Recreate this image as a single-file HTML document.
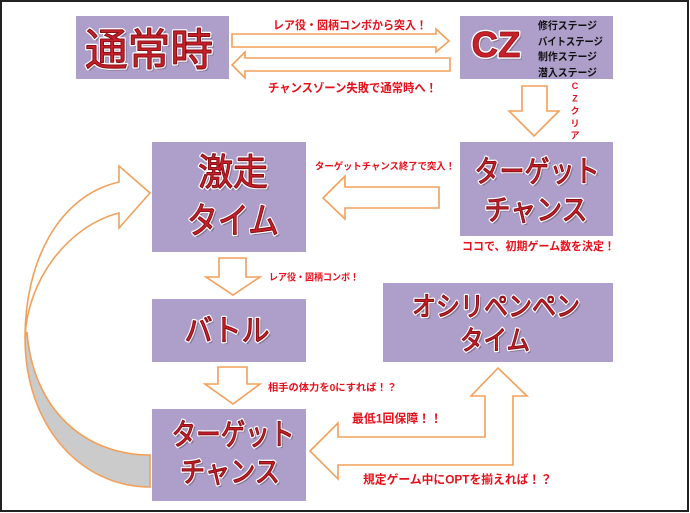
<!DOCTYPE html>
<html><head><meta charset="utf-8">
<style>
html,body{margin:0;padding:0;background:#fff;}
svg{display:block;}
.b{font-family:"Liberation Sans","Noto Sans CJK JP",sans-serif;font-weight:bold;}
.m{font-family:"Liberation Sans","Noto Sans CJK JP",sans-serif;font-weight:normal;}
.sh{fill:#6a5a6e;opacity:.55;stroke:#6a5a6e;stroke-width:1;}
.wt{fill:#fff;stroke:#fff;stroke-width:3.5;stroke-linejoin:round;}
.rd{fill:#c8202a;stroke:#8a1016;stroke-width:1.1;stroke-linejoin:round;}
.lb{fill:#e5101a;}
.bk{fill:#111;}
.ar{fill:#fff;stroke:#f2a05a;stroke-width:1.6;stroke-linejoin:miter;}
.bx{fill:#ad9fca;}
</style></head>
<body>
<svg width="690" height="513" viewBox="0 0 690 513" xmlns="http://www.w3.org/2000/svg">
<rect x="0" y="0" width="690" height="513" fill="#fff"/>
<rect x="1" y="1" width="687" height="510" fill="none" stroke="#222" stroke-width="2"/>

<!-- boxes -->
<rect class="bx" x="76" y="16" width="153" height="63"/>
<rect class="bx" x="460" y="16" width="153" height="63"/>
<rect class="bx" x="460" y="142" width="153" height="94"/>
<rect class="bx" x="152" y="142" width="154" height="110"/>
<rect class="bx" x="152" y="299" width="154" height="63"/>
<rect class="bx" x="152" y="409" width="154" height="92"/>
<rect class="bx" x="383" y="283" width="230" height="79"/>

<!-- arrows -->
<polygon class="ar" points="232,34 436,34 436,29 449,41 436,52 436,47 232,47"/>
<polygon class="ar" points="450,58 245,58 245,52 232,65 245,78 245,71 450,71"/>
<polygon class="ar" points="522,86 547,86 547,111 559,111 534,136 509,111 522,111"/>
<polygon class="ar" points="439,187 345,187 345,176 323,198 345,219 345,208 439,208"/>
<polygon class="ar" points="219,258 246,258 246,277 260,277 233,295 206,277 219,277"/>
<polygon class="ar" points="218,367 247,367 247,384 260,384 233,404 205,384 218,384"/>
<polygon class="ar" points="310,451 338,423 338,437 485,437 485,396 471,396 498,368 527,396 513,396 513,465 338,465 338,479"/>

<!-- curved arrow -->
<path d="M25,338 C25,425 80,487 150,487 L150,455 C85,455 33,410 27,332 Z" fill="#cbcbcb" stroke="#f2a05a" stroke-width="1.6"/>
<path d="M119,182 C58,196 25,262 25,338 C27,280 68,226 119,213 L119,228 L150,193 L119,166 Z" fill="#fff" stroke="#f2a05a" stroke-width="1.6" stroke-linejoin="miter"/>

<!-- box titles: shadow, white rim, red -->
<g class="m" text-anchor="middle">
  <!-- 通常時 -->
  <text class="sh" x="151" y="67" font-size="44" textLength="128" lengthAdjust="spacingAndGlyphs">通常時</text>
  <text class="wt" x="149" y="65" font-size="44" textLength="128" lengthAdjust="spacingAndGlyphs">通常時</text>
  <text class="rd" x="149" y="65" font-size="44" textLength="128" lengthAdjust="spacingAndGlyphs">通常時</text>
  <!-- 激走 タイム -->
  <text class="sh" x="235" y="187" font-size="37" textLength="70" lengthAdjust="spacingAndGlyphs">激走</text>
  <text class="wt" x="233" y="185" font-size="37" textLength="70" lengthAdjust="spacingAndGlyphs">激走</text>
  <text class="rd" x="233" y="185" font-size="37" textLength="70" lengthAdjust="spacingAndGlyphs">激走</text>
  <text class="sh" x="235" y="235" font-size="36" textLength="92" lengthAdjust="spacingAndGlyphs">タイム</text>
  <text class="wt" x="233" y="233" font-size="36" textLength="92" lengthAdjust="spacingAndGlyphs">タイム</text>
  <text class="rd" x="233" y="233" font-size="36" textLength="92" lengthAdjust="spacingAndGlyphs">タイム</text>
  <!-- top-right ターゲットチャンス -->
  <text class="sh" x="539" y="184" font-size="30" textLength="125" lengthAdjust="spacingAndGlyphs">ターゲット</text>
  <text class="wt" x="537" y="182" font-size="30" textLength="125" lengthAdjust="spacingAndGlyphs">ターゲット</text>
  <text class="rd" x="537" y="182" font-size="30" textLength="125" lengthAdjust="spacingAndGlyphs">ターゲット</text>
  <text class="sh" x="538" y="222" font-size="29" textLength="103" lengthAdjust="spacingAndGlyphs">チャンス</text>
  <text class="wt" x="536" y="220" font-size="29" textLength="103" lengthAdjust="spacingAndGlyphs">チャンス</text>
  <text class="rd" x="536" y="220" font-size="29" textLength="103" lengthAdjust="spacingAndGlyphs">チャンス</text>
  <!-- バトル -->
  <text class="sh" x="229" y="343" font-size="30" textLength="85" lengthAdjust="spacingAndGlyphs">バトル</text>
  <text class="wt" x="227" y="341" font-size="30" textLength="85" lengthAdjust="spacingAndGlyphs">バトル</text>
  <text class="rd" x="227" y="341" font-size="30" textLength="85" lengthAdjust="spacingAndGlyphs">バトル</text>
  <!-- bottom ターゲットチャンス -->
  <text class="sh" x="235" y="447" font-size="30" textLength="123" lengthAdjust="spacingAndGlyphs">ターゲット</text>
  <text class="wt" x="233" y="445" font-size="30" textLength="123" lengthAdjust="spacingAndGlyphs">ターゲット</text>
  <text class="rd" x="233" y="445" font-size="30" textLength="123" lengthAdjust="spacingAndGlyphs">ターゲット</text>
  <text class="sh" x="232" y="484" font-size="29" textLength="100" lengthAdjust="spacingAndGlyphs">チャンス</text>
  <text class="wt" x="230" y="482" font-size="29" textLength="100" lengthAdjust="spacingAndGlyphs">チャンス</text>
  <text class="rd" x="230" y="482" font-size="29" textLength="100" lengthAdjust="spacingAndGlyphs">チャンス</text>
  <!-- オシリペンペン タイム -->
  <text class="sh" x="498" y="318" font-size="27" textLength="168" lengthAdjust="spacingAndGlyphs">オシリペンペン</text>
  <text class="wt" x="496" y="316" font-size="27" textLength="168" lengthAdjust="spacingAndGlyphs">オシリペンペン</text>
  <text class="rd" x="496" y="316" font-size="27" textLength="168" lengthAdjust="spacingAndGlyphs">オシリペンペン</text>
  <text class="sh" x="497" y="352" font-size="27" textLength="70" lengthAdjust="spacingAndGlyphs">タイム</text>
  <text class="wt" x="495" y="350" font-size="27" textLength="70" lengthAdjust="spacingAndGlyphs">タイム</text>
  <text class="rd" x="495" y="350" font-size="27" textLength="70" lengthAdjust="spacingAndGlyphs">タイム</text>
</g>
<g class="b" text-anchor="middle">
  <!-- CZ -->
  <text class="sh" x="498" y="59" font-size="36" textLength="49" lengthAdjust="spacingAndGlyphs">CZ</text>
  <text class="wt" x="496" y="57" font-size="36" textLength="49" lengthAdjust="spacingAndGlyphs">CZ</text>
  <text class="rd" x="496" y="57" font-size="36" textLength="49" lengthAdjust="spacingAndGlyphs" style="stroke-width:.7">CZ</text>
</g>

<!-- CZ stages -->
<g class="b bk" font-size="10.5">
  <text x="538" y="29" textLength="59" lengthAdjust="spacingAndGlyphs">修行ステージ</text>
  <text x="538" y="45" textLength="65" lengthAdjust="spacingAndGlyphs">バイトステージ</text>
  <text x="538" y="60" textLength="59" lengthAdjust="spacingAndGlyphs">制作ステージ</text>
  <text x="538" y="76" textLength="59" lengthAdjust="spacingAndGlyphs">潜入ステージ</text>
</g>

<!-- red labels -->
<g class="b lb">
  <text x="273" y="29" font-size="11.5" textLength="154" lengthAdjust="spacingAndGlyphs">レア役・図柄コンボから突入！</text>
  <text x="268" y="92" font-size="12" textLength="169" lengthAdjust="spacingAndGlyphs">チャンスゾーン失敗で通常時へ！</text>
  <text x="315" y="169.5" font-size="9.5" textLength="140" lengthAdjust="spacingAndGlyphs">ターゲットチャンス終了で突入！</text>
  <text x="269" y="280.5" font-size="9.5" textLength="90" lengthAdjust="spacingAndGlyphs">レア役・図柄コンボ！</text>
  <text x="268" y="391" font-size="10" textLength="129" lengthAdjust="spacingAndGlyphs">相手の体力を0にすれば！？</text>
  <text x="352" y="422.5" font-size="12" textLength="90" lengthAdjust="spacingAndGlyphs">最低1回保障！！</text>
  <text x="363" y="483.5" font-size="12" textLength="189" lengthAdjust="spacingAndGlyphs">規定ゲーム中にOPTを揃えれば！？</text>
  <text x="462" y="250" font-size="11.5" textLength="153" lengthAdjust="spacingAndGlyphs">ココで、初期ゲーム数を決定！</text>
  <g font-size="9" text-anchor="middle">
    <text x="575" y="89">C</text>
    <text x="575" y="101.5">Z</text>
    <text x="575" y="114">ク</text>
    <text x="575" y="126.5">リ</text>
    <text x="575" y="138.5">ア</text>
  </g>
</g>
</svg>
</body></html>
